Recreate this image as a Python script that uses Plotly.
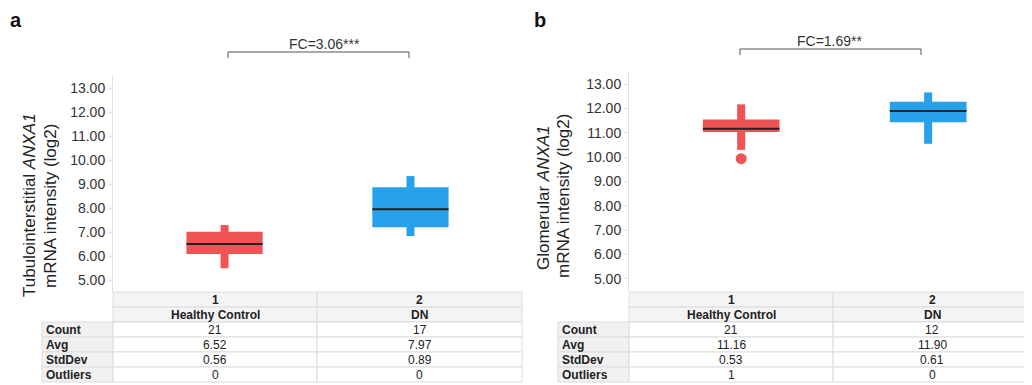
import plotly.graph_objects as go

# The page body has an 8px margin, so the figure is drawn 8px smaller and
# all layout positions below are given in window pixels and shifted by 8.
WIN_W, WIN_H = 1032, 385
OFF = 8
W, H = WIN_W - OFF, WIN_H - OFF

# ---------------- data ----------------
group_ids = ["1", "2"]
group_names = ["Healthy Control", "DN"]
positions = [1, 2]
stat_labels = ["Count", "Avg", "StdDev", "Outliers"]

# Panel a: tubulointerstitial ANXA1 (log2)
a_low = [5.49, 6.83]
a_q1 = [6.08, 7.20]
a_med = [6.50, 7.95]
a_q3 = [7.01, 8.86]
a_high = [7.29, 9.33]
a_out_x = []
a_out_y = []
a_count = [21, 17]
a_avg = [6.52, 7.97]
a_std = [0.56, 0.89]
a_outliers = [0, 0]
a_fc = "FC=3.06***"

# Panel b: glomerular ANXA1 (log2)
b_low = [10.30, 10.55]
b_q1 = [11.03, 11.44]
b_med = [11.17, 11.90]
b_q3 = [11.55, 12.28]
b_high = [12.17, 12.66]
b_out_x = [1]
b_out_y = [9.94]
b_count = [21, 12]
b_avg = [11.16, 11.90]
b_std = [0.53, 0.61]
b_outliers = [1, 0]
b_fc = "FC=1.69**"

y_ticks = [5, 6, 7, 8, 9, 10, 11, 12, 13]

# ---------------- style ----------------
colors = ["#F05353", "#27A2EA"]
FONT = "Arial, Liberation Sans, sans-serif"
BOX_W = 0.41
WHISK_W = 0.043
GRID = "#DCDCDC"


def px(x):
    return (x - OFF) / W


def py(y):
    return 1 - (y - OFF) / H


fig = go.Figure()


def add_panel(xa, ya, low, q1, med, q3, high, out_x, out_y):
    fig.add_trace(go.Bar(x=positions, base=low, y=[h - l for h, l in zip(high, low)],
                         width=WHISK_W, marker=dict(color=colors, line=dict(width=0)),
                         xaxis=xa, yaxis=ya, hoverinfo="skip"))
    fig.add_trace(go.Bar(x=positions, base=q1, y=[b - a for a, b in zip(q1, q3)],
                         width=BOX_W, marker=dict(color=colors, line=dict(width=0)),
                         xaxis=xa, yaxis=ya, hoverinfo="skip"))
    mx, my = [], []
    for p, m in zip(positions, med):
        mx += [p - BOX_W / 2, p + BOX_W / 2, None]
        my += [m, m, None]
    fig.add_trace(go.Scatter(x=mx, y=my, mode="lines", line=dict(color="#222222", width=2),
                             xaxis=xa, yaxis=ya, hoverinfo="skip"))
    if out_x:
        fig.add_trace(go.Scatter(x=out_x, y=out_y, mode="markers",
                                 marker=dict(color=[colors[positions.index(v)] for v in out_x], size=11),
                                 xaxis=xa, yaxis=ya, hoverinfo="skip"))


add_panel("x", "y", a_low, a_q1, a_med, a_q3, a_high, a_out_x, a_out_y)
add_panel("x2", "y2", b_low, b_q1, b_med, b_q3, b_high, b_out_x, b_out_y)

shapes = []
ann = []

# ---------------- summary tables (drawn as cells) ----------------
ROW_Y = [292, 307, 322, 337, 352, 367, 382]


def cell(x0, x1, y0, y1, fill):
    shapes.append(dict(type="rect", xref="paper", yref="paper", layer="below",
                       x0=px(x0), x1=px(x1), y0=py(y1), y1=py(y0),
                       fillcolor=fill, line=dict(color=GRID, width=1)))


def text(t, x, y, size=12, bold=False, xanchor="center"):
    ann.append(dict(text=("<b>%s</b>" % t) if bold else t, x=px(x), y=py(y),
                    xref="paper", yref="paper", showarrow=False,
                    xanchor=xanchor, yanchor="middle",
                    font=dict(family=FONT, size=size, color="#222222")))


def add_table(col_x, count, avg, std, outl):
    lab0, c0, c1, c2 = col_x
    cols = [(c0, c1), (c1, c2)]
    for r, vals in enumerate([group_ids, group_names]):
        y0, y1 = ROW_Y[r], ROW_Y[r + 1]
        for (xa0, xa1), v in zip(cols, vals):
            cell(xa0, xa1, y0, y1, "#F4F4F4")
            text(v, (xa0 + xa1) / 2, (y0 + y1) / 2 + 0.5, bold=True)
    body = [[str(v) for v in count], ["%.2f" % v for v in avg],
            ["%.2f" % v for v in std], [str(v) for v in outl]]
    for r, (lab, vals) in enumerate(zip(stat_labels, body)):
        y0, y1 = ROW_Y[r + 2], ROW_Y[r + 3]
        cell(lab0, c0, y0, y1, "#F1F1F1")
        text(lab, lab0 + 2, (y0 + y1) / 2 + 0.5, bold=True, xanchor="left")
        for (xa0, xa1), v in zip(cols, vals):
            cell(xa0, xa1, y0, y1, "white")
            text(v, (xa0 + xa1) / 2, (y0 + y1) / 2 + 0.5)


add_table((42, 113, 317, 522), a_count, a_avg, a_std, a_outliers)
add_table((558, 629, 833, 1031), b_count, b_avg, b_std, b_outliers)

# ---------------- axes ----------------
yaxis_common = dict(
    range=[4.5, 13.5], tickvals=y_ticks, tickformat=".2f",
    showline=True, linecolor="#E2E2E2", linewidth=1,
    ticks="outside", ticklen=4, tickcolor="#E2E2E2",
    showgrid=False, zeroline=False,
    tickfont=dict(family=FONT, size=14, color="#333333"),
)
xaxis_common = dict(showline=False, showgrid=False, zeroline=False,
                    showticklabels=False, ticks="")

fig.update_layout(
    width=W, height=H,
    margin=dict(l=0, r=0, t=0, b=0),
    paper_bgcolor="white", plot_bgcolor="rgba(0,0,0,0)",
    showlegend=False, barmode="overlay",
    xaxis=dict(domain=[px(113), px(522)], range=[0.4, 2.6], anchor="y", **xaxis_common),
    yaxis=dict(domain=[py(292), py(76)], anchor="x", **yaxis_common),
    xaxis2=dict(domain=[px(629), px(1031)], range=[0.4, 2.55], anchor="y2", **xaxis_common),
    yaxis2=dict(domain=[py(291), py(72)], anchor="x2", **yaxis_common),
)

# significance brackets
for (xl, xr, yb, yt) in [(228, 409, 52, 58), (740, 921, 49, 55)]:
    path = "M %f %f L %f %f L %f %f L %f %f" % (px(xl), py(yt), px(xl), py(yb),
                                                px(xr), py(yb), px(xr), py(yt))
    shapes.append(dict(type="path", xref="paper", yref="paper", path=path,
                       line=dict(color="#555555", width=1)))

for t, x, y in [(a_fc, 324, 44), (b_fc, 830, 41)]:
    ann.append(dict(text=t, x=px(x), y=py(y), xref="paper", yref="paper", showarrow=False,
                    font=dict(family=FONT, size=14, color="#333333"),
                    xanchor="center", yanchor="middle"))
# panel labels
for t, x, y in [("a", 16, 20), ("b", 540, 20)]:
    ann.append(dict(text="<b>%s</b>" % t, x=px(x), y=py(y), xref="paper", yref="paper",
                    showarrow=False, font=dict(family=FONT, size=20, color="#111111"),
                    xanchor="center", yanchor="middle"))
# axis titles
for t, x, y in [("Tubulointerstitial <i>ANXA1</i>", 29, 205),
                ("mRNA intensity (log2)", 51, 206),
                ("Glomerular <i>ANXA1</i>", 543, 198),
                ("mRNA intensity (log2)", 564, 196)]:
    ann.append(dict(text=t, x=px(x), y=py(y), xref="paper", yref="paper", showarrow=False,
                    textangle=-90, font=dict(family=FONT, size=17, color="#222222"),
                    xanchor="center", yanchor="middle"))

fig.update_layout(shapes=shapes, annotations=ann)

fig.write_html("out.html")
